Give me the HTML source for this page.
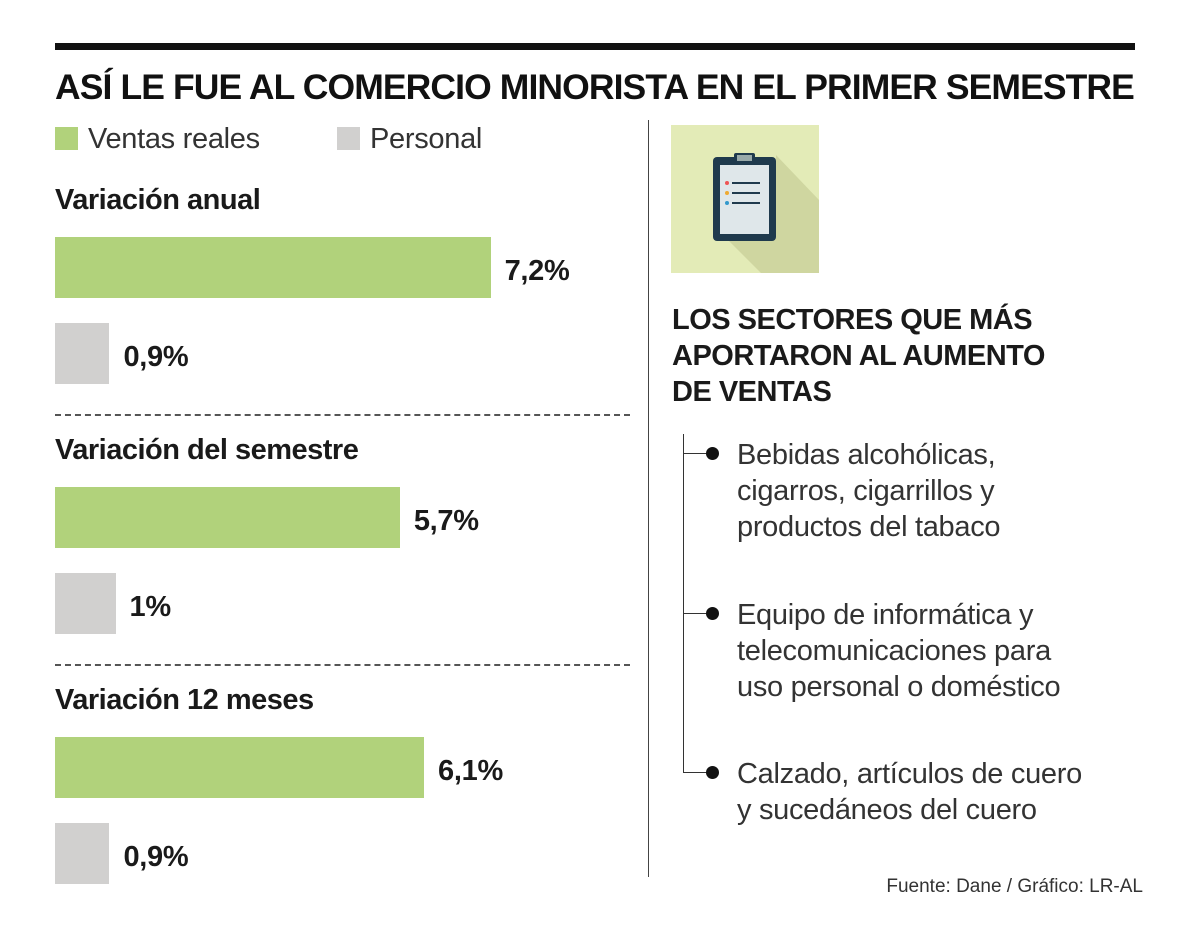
<!DOCTYPE html>
<html><head><meta charset="utf-8"><style>
body{margin:0;background:#fff;font-family:"Liberation Sans",sans-serif;}
#c{position:relative;width:1200px;height:942px;overflow:hidden;background:#fff}
.a{position:absolute;white-space:nowrap}
.t{font-weight:bold;font-size:29px;color:#1a1a1a;letter-spacing:-0.5px}
.v{font-weight:bold;font-size:29px;color:#1a1a1a;letter-spacing:-0.3px}
.l{font-size:29px;color:#333;letter-spacing:-0.3px}
.dash{position:absolute;left:55px;width:575px;border-top:2px dashed #555}
</style></head><body>
<div id="c">
<div class="a" style="left:55px;top:43px;width:1080px;height:7px;background:#111"></div>
<div class="a" style="left:55px;top:67px;font-weight:bold;font-size:35.5px;color:#111;letter-spacing:-0.9px">ASÍ LE FUE AL COMERCIO MINORISTA EN EL PRIMER SEMESTRE</div>
<div class="a" style="left:55px;top:127px;width:23px;height:23px;background:#b1d27b"></div>
<div class="a l" style="left:88px;top:123px">Ventas reales</div>
<div class="a" style="left:337px;top:127px;width:23px;height:23px;background:#d1d0cf"></div>
<div class="a l" style="left:370px;top:123px">Personal</div>
<div id="bars"></div>
<div class="dash" style="top:414px"></div>
<div class="dash" style="top:664px"></div>
<div class="a" style="left:648px;top:120px;width:1px;height:757px;background:#444"></div>
<div class="a" style="left:671px;top:125px;width:148px;height:148px;background:#e3ebb7;overflow:hidden">
<svg width="148" height="148"><polygon points="105,30 148,75 148,148 90,148 42,100 105,100" fill="#cfd6a0"/>
<rect x="42" y="32" width="63" height="84" rx="4" fill="#1f3a4d"/><rect x="49" y="40" width="49" height="69" fill="#dfe7ea"/>
<rect x="63" y="28" width="21" height="10" rx="2" fill="#1f3a4d"/><rect x="66" y="30" width="15" height="6" fill="#9aa"/>
<circle cx="56" cy="58" r="2" fill="#e55"/><rect x="61" y="57" width="28" height="2" fill="#1f3a4d"/>
<circle cx="56" cy="68" r="2" fill="#ea3"/><rect x="61" y="67" width="28" height="2" fill="#1f3a4d"/>
<circle cx="56" cy="78" r="2" fill="#39c"/><rect x="61" y="77" width="28" height="2" fill="#1f3a4d"/></svg></div>
<div class="a t" style="left:672px;top:302px;line-height:36px;font-size:29px">LOS SECTORES QUE MÁS<br>APORTARON AL AUMENTO<br>DE VENTAS</div>
<div class="a" style="left:683px;top:434px;width:1px;height:339px;background:#333"></div>
<div id="items"></div>
<div class="a" style="right:57px;top:876px;font-size:19px;color:#333">Fuente: Dane / Gráfico: LR-AL</div>
</div>
<script>
const sections=["Variación anual","Variación del semestre","Variación 12 meses"];
const ventas=[7.2,5.7,6.1];
const personal=[0.9,1,0.9];
const ventasLabels=["7,2%","5,7%","6,1%"];
const personalLabels=["0,9%","1%","0,9%"];
const sectors=[["Bebidas alcohólicas,","cigarros, cigarrillos y","productos del tabaco"],["Equipo de informática y","telecomunicaciones para","uso personal o doméstico"],["Calzado, artículos de cuero","y sucedáneos del cuero"]];
const x=v=>v*60.5;
const B=document.getElementById('bars');
sections.forEach((s,i)=>{
 const top=180+i*250;
 let t=document.createElement('div');t.className='a t';t.style.cssText=`left:55px;top:${top+4}px`;t.textContent=s;
 
 B.appendChild(t);
 [[ventas[i],ventasLabels[i],'#b1d27b',57],[personal[i],personalLabels[i],'#d1d0cf',143]].forEach(([v,lab,col,off],k)=>{
  let b=document.createElement('div');b.className='a';b.style.cssText=`left:55px;top:${top+off}px;width:${x(v)}px;height:61px;background:${col}`;
  
  B.appendChild(b);
  let l=document.createElement('div');l.className='a v';l.style.cssText=`left:${55+x(v)+14}px;top:${top+off+18}px`;l.textContent=lab;
  
  B.appendChild(l);
 });
});
const I=document.getElementById('items');
sectors.forEach((lines,i)=>{
 const y=453+i*159.5;
 let h=document.createElement('div');h.className='a';h.style.cssText=`left:683px;top:${y}px;width:28px;height:1px;background:#333`;
 
 I.appendChild(h);
 let d=document.createElement('div');d.className='a';d.style.cssText=`left:706px;top:${y-6}px;width:13px;height:13px;border-radius:50%;background:#111`;
 
 I.appendChild(d);
 let t=document.createElement('div');t.className='a l';t.style.cssText=`left:737px;top:${y-16}px;line-height:36px`;t.innerHTML=lines.join('<br>');
 
 I.appendChild(t);
});
</script>
</body></html>
